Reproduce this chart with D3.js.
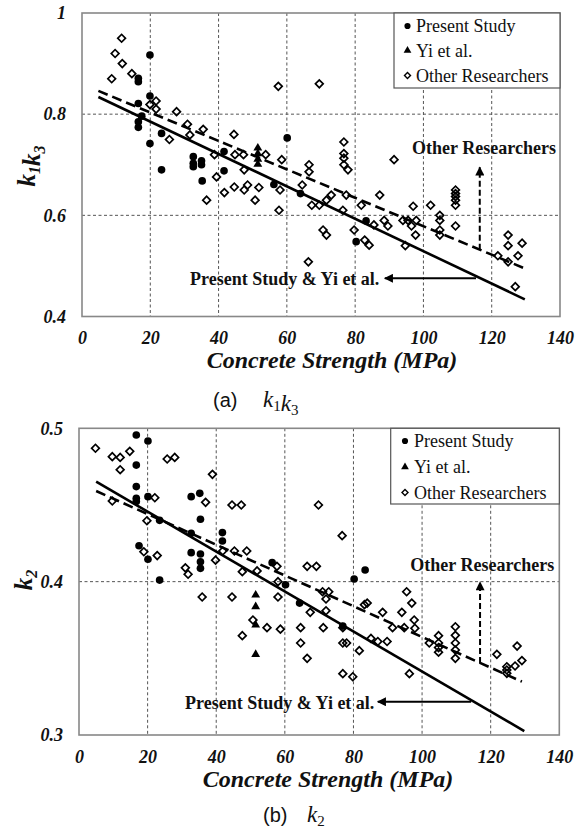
<!DOCTYPE html>
<html>
<head>
<meta charset="utf-8">
<script src="https://cdn.jsdelivr.net/npm/d3@7"></script>
<style>
  html, body { margin: 0; padding: 0; background: #fff; }
  svg { display: block; }
</style>
</head>
<body>
<svg id="fig" width="584" height="829"></svg>
<script>
// ---- axis ticks ----
const strengthTicks = [0, 20, 40, 60, 80, 100, 120, 140];
const k13Ticks = [0.4, 0.6, 0.8, 1.0];
const k2Ticks = [0.3, 0.4, 0.5];
const seriesNames = ["Present Study", "Yi et al.", "Other Researchers"];

// ---- k1k3 : [concrete strength (MPa), k1k3] ----
const k13Present = [
  [19.9, 0.917], [16.5, 0.871], [16.5, 0.864], [19.9, 0.836], [16.5, 0.821],
  [17.5, 0.796], [16.5, 0.785], [16.5, 0.774], [19.9, 0.742], [23.3, 0.762],
  [23.3, 0.690], [32.6, 0.716], [32.6, 0.703], [32.6, 0.696], [35.0, 0.708],
  [35.0, 0.700], [35.2, 0.668], [41.6, 0.726], [41.6, 0.688], [60.1, 0.753],
  [56.2, 0.661], [64.0, 0.643], [80.3, 0.548], [83.2, 0.589]
];
const k13Yi = [[51.5, 0.733], [51.5, 0.722], [51.5, 0.711], [51.5, 0.701]];
const k13Other = [
  [11.6, 0.950], [9.7, 0.920], [11.8, 0.900], [14.6, 0.880], [8.7, 0.870],
  [21.7, 0.826], [19.9, 0.819], [21.7, 0.810], [27.7, 0.805], [30.9, 0.780],
  [31.6, 0.759], [35.5, 0.770], [25.6, 0.750], [44.5, 0.760], [38.8, 0.720],
  [44.8, 0.720], [47.3, 0.720], [47.5, 0.690], [39.4, 0.676], [41.7, 0.645],
  [44.6, 0.656], [47.5, 0.650], [48.5, 0.660], [51.8, 0.655], [50.7, 0.630],
  [36.5, 0.630], [53.8, 0.720], [58.5, 0.710], [58.0, 0.650], [57.7, 0.610],
  [57.5, 0.855], [66.5, 0.700], [66.5, 0.686], [64.5, 0.660], [67.3, 0.620],
  [69.5, 0.620], [66.3, 0.508], [69.5, 0.860], [76.7, 0.745], [76.7, 0.722],
  [76.7, 0.713], [76.7, 0.700], [77.9, 0.690], [91.4, 0.710], [73.0, 0.640],
  [71.6, 0.630], [77.4, 0.640], [87.2, 0.640], [81.8, 0.620], [76.4, 0.610],
  [70.6, 0.571], [71.6, 0.561], [79.7, 0.571], [82.8, 0.551], [84.1, 0.541],
  [85.5, 0.581], [88.5, 0.590], [89.6, 0.579], [94.7, 0.540], [94.0, 0.590],
  [95.5, 0.590], [97.0, 0.618], [96.5, 0.579], [97.9, 0.590], [97.7, 0.561],
  [102.1, 0.620], [104.8, 0.600], [104.8, 0.590], [104.8, 0.571], [104.8, 0.561],
  [109.4, 0.650], [109.4, 0.643], [109.4, 0.637], [109.4, 0.630], [109.4, 0.620],
  [109.4, 0.579], [121.8, 0.520], [124.8, 0.561], [124.8, 0.540], [124.8, 0.508],
  [128.9, 0.545], [127.7, 0.520], [126.9, 0.459]
];
const k13FitPresentYi = [[4.8, 0.834], [129.7, 0.434]];
const k13FitOther = [[4.8, 0.846], [129.7, 0.495]];

// ---- k2 : [concrete strength (MPa), k2] ----
const k2Present = [
  [16.7, 0.4956], [20.1, 0.4917], [16.7, 0.4760], [16.7, 0.4620], [16.7, 0.4544],
  [16.7, 0.4522], [20.1, 0.4554], [23.5, 0.4400], [17.5, 0.4234], [20.1, 0.4146],
  [23.5, 0.4010], [32.7, 0.4554], [35.2, 0.4576], [35.4, 0.4407], [32.7, 0.4315],
  [32.7, 0.4189], [35.4, 0.4180], [35.4, 0.4130], [35.4, 0.4087], [41.8, 0.4320],
  [41.8, 0.4265], [56.3, 0.4124], [60.2, 0.3980], [64.3, 0.3860], [80.2, 0.4017],
  [83.4, 0.4076], [76.9, 0.3710]
];
const k2Yi = [[51.5, 0.3913], [51.5, 0.3837], [51.5, 0.3717], [51.5, 0.3526]];
const k2Other = [
  [4.8, 0.4870], [9.7, 0.4815], [12.0, 0.4810], [14.8, 0.4850], [12.0, 0.4730],
  [9.7, 0.4526], [25.7, 0.4800], [27.9, 0.4810], [22.1, 0.4547], [19.8, 0.4397],
  [18.9, 0.4195], [22.8, 0.4170], [38.9, 0.4700], [36.9, 0.4517], [44.6, 0.4500],
  [47.3, 0.4500], [39.8, 0.4140], [31.0, 0.4090], [31.8, 0.4048], [41.9, 0.4200],
  [45.3, 0.4200], [48.9, 0.4200], [47.6, 0.4065], [51.9, 0.4070], [35.9, 0.3900],
  [44.6, 0.3900], [58.0, 0.3900], [57.7, 0.4100], [58.0, 0.4000], [50.7, 0.3750],
  [54.8, 0.3700], [58.7, 0.3690], [47.6, 0.3648], [64.6, 0.3700], [64.6, 0.3600],
  [66.5, 0.3500], [67.4, 0.3800], [66.5, 0.4100], [69.2, 0.4100], [69.8, 0.4500],
  [76.7, 0.4300], [71.0, 0.3934], [72.8, 0.3934], [72.0, 0.3887], [72.0, 0.3810],
  [71.2, 0.3700], [76.9, 0.3700], [76.9, 0.3600], [78.0, 0.3600], [76.9, 0.3400],
  [79.8, 0.3380], [81.7, 0.3550], [83.2, 0.3850], [84.0, 0.3860], [85.1, 0.3630],
  [87.1, 0.3610], [89.8, 0.3610], [88.5, 0.3800], [91.4, 0.3700], [94.1, 0.3800],
  [94.8, 0.3700], [95.5, 0.3934], [97.0, 0.3860], [97.7, 0.3750], [97.9, 0.3696],
  [96.3, 0.3400], [102.1, 0.3600], [104.8, 0.3648], [104.8, 0.3600], [104.8, 0.3570],
  [104.8, 0.3540], [109.7, 0.3706], [109.7, 0.3650], [109.7, 0.3600], [109.7, 0.3554],
  [109.7, 0.3500], [121.8, 0.3526], [124.7, 0.3445], [124.7, 0.3424], [124.7, 0.3402],
  [127.1, 0.3450], [127.7, 0.3580], [129.1, 0.3485]
];
const k2FitPresentYi = [[5.0, 0.4652], [129.8, 0.3026]];
const k2FitOther = [[5.0, 0.4591], [129.1, 0.3348]];

// ---------------------------------------------------------------
const svg = d3.select("#fig");
const SERIF = "'Liberation Serif', 'Times New Roman', serif";
const SANS = "'Liberation Sans', Arial, sans-serif";

const defs = svg.append("defs");
defs.append("marker")
  .attr("id", "arrowHead")
  .attr("viewBox", "0 0 10 10")
  .attr("refX", 9).attr("refY", 5)
  .attr("markerUnits", "userSpaceOnUse")
  .attr("markerWidth", 10).attr("markerHeight", 9)
  .attr("orient", "auto")
  .append("path").attr("d", "M0,0 L10,5 L0,10 Z").attr("fill", "#000");

const circleSym = d3.symbol().type(d3.symbolCircle).size(46);
const triSym = d3.symbol().type(d3.symbolTriangle).size(34);
const diaSym = d3.symbol().type(d3.symbolSquare).size(30);

function drawPanel(p) {
  const g = svg.append("g");
  const x = d3.scaleLinear().domain([0, 140]).range([p.left, p.right]);
  const y = d3.scaleLinear().domain(p.yDomain).range([p.bottom, p.top]);

  // dashed grid
  const grid = g.append("g").attr("stroke", "#555").attr("stroke-width", 1)
    .attr("stroke-dasharray", "3,2.5");
  grid.selectAll("line.vx").data(strengthTicks.slice(1, -1)).join("line")
    .attr("x1", d => x(d)).attr("x2", d => x(d))
    .attr("y1", p.top).attr("y2", p.bottom);
  grid.selectAll("line.hy").data(p.yTicks.slice(1, -1)).join("line")
    .attr("x1", p.left).attr("x2", p.right)
    .attr("y1", d => y(d)).attr("y2", d => y(d));

  // frame
  g.append("rect").attr("x", p.left).attr("y", p.top)
    .attr("width", p.right - p.left).attr("height", p.bottom - p.top)
    .attr("fill", "none").attr("stroke", "#888").attr("stroke-width", 1.6);

  // axes
  const xAxis = d3.axisBottom(x).tickValues(strengthTicks).tickSize(0).tickPadding(15)
    .tickFormat(d3.format("d"));
  const ax = g.append("g").attr("transform", `translate(0,${p.bottom})`).call(xAxis);
  ax.select(".domain").remove();
  ax.selectAll("text").attr("font-family", SERIF).attr("font-size", 18)
    .attr("font-weight", "bold").attr("font-style", "italic").attr("fill", "#111");

  const yAxis = d3.axisLeft(y).tickValues(p.yTicks).tickSize(0).tickPadding(16)
    .tickFormat(d => d === 1 ? "1" : d3.format(".1f")(d));
  const ay = g.append("g").attr("transform", `translate(${p.left},0)`).call(yAxis);
  ay.select(".domain").remove();
  ay.selectAll("text").attr("font-family", SERIF).attr("font-size", 18)
    .attr("font-weight", "bold").attr("font-style", "italic").attr("fill", "#111");

  // axis titles
  g.append("text").attr("x", p.xTitleX).attr("y", p.xTitleY)
    .attr("text-anchor", "middle").attr("font-family", SERIF).attr("font-size", 24)
    .attr("font-weight", "bold").attr("font-style", "italic").attr("fill", "#111")
    .text("Concrete Strength (MPa)");

  const yt = g.append("text")
    .attr("transform", `translate(${p.yTitleX},${p.yTitleY}) rotate(-90)`)
    .attr("text-anchor", "middle").attr("font-family", SERIF)
    .attr("font-weight", "bold").attr("font-style", "italic").attr("fill", "#111")
    .attr("font-size", 25);
  p.yTitle.forEach(([base, sub]) => {
    yt.append("tspan").text(base);
    yt.append("tspan").attr("font-size", 16).attr("dy", 5).text(sub);
    yt.append("tspan").attr("font-size", 25).attr("dy", -5).text("");
  });

  // fitted lines
  const line = d3.line().x(d => x(d[0])).y(d => y(d[1]));
  g.append("path").datum(p.fitOther).attr("d", line)
    .attr("fill", "none").attr("stroke", "#000").attr("stroke-width", 2.6)
    .attr("stroke-dasharray", "10,5");
  g.append("path").datum(p.fitPresent).attr("d", line)
    .attr("fill", "none").attr("stroke", "#000").attr("stroke-width", 2.6);

  // points
  g.append("g").selectAll("path").data(p.other).join("path")
    .attr("d", diaSym)
    .attr("transform", d => `translate(${x(d[0])},${y(d[1])}) rotate(45)`)
    .attr("fill", "none").attr("stroke", "#000").attr("stroke-width", 1.7);
  g.append("g").selectAll("path").data(p.present).join("path")
    .attr("d", circleSym)
    .attr("transform", d => `translate(${x(d[0])},${y(d[1])})`)
    .attr("fill", "#000");
  g.append("g").selectAll("path").data(p.yi).join("path")
    .attr("d", triSym)
    .attr("transform", d => `translate(${x(d[0])},${y(d[1])})`)
    .attr("fill", "#000");

  // annotations
  const ann = p.ann;
  const yOtherAt = x0 => p.fitOther[0][1] + (p.fitOther[1][1] - p.fitOther[0][1]) *
    (x0 - p.fitOther[0][0]) / (p.fitOther[1][0] - p.fitOther[0][0]);
  g.append("line")
    .attr("x1", x(ann.upX)).attr("x2", x(ann.upX))
    .attr("y1", y(yOtherAt(ann.upX))).attr("y2", y(ann.upTip))
    .attr("stroke", "#000").attr("stroke-width", 2).attr("stroke-dasharray", "6,3")
    .attr("marker-end", "url(#arrowHead)");
  g.append("text").attr("x", x(ann.otherTextX)).attr("y", y(ann.otherTextY))
    .attr("text-anchor", "end").attr("font-family", SERIF).attr("font-size", 18)
    .attr("font-weight", "bold").attr("fill", "#111").text("Other Researchers");

  g.append("line")
    .attr("x1", x(ann.leftFrom)).attr("x2", x(ann.leftTip))
    .attr("y1", y(ann.leftY)).attr("y2", y(ann.leftY))
    .attr("stroke", "#000").attr("stroke-width", 2)
    .attr("marker-end", "url(#arrowHead)");
  g.append("text").attr("x", x(ann.presentTextX)).attr("y", y(ann.presentTextY))
    .attr("text-anchor", "end").attr("font-family", SERIF).attr("font-size", 18)
    .attr("font-weight", "bold").attr("fill", "#111").text("Present Study & Yi et al.");

  // legend
  const L = p.legend;
  const lg = g.append("g");
  lg.append("rect").attr("x", L.x0).attr("y", p.top).attr("width", p.right - L.x0)
    .attr("height", L.y1 - p.top).attr("fill", "#fff").attr("stroke", "#555")
    .attr("stroke-width", 1.2);
  const syms = [
    d3.symbol().type(d3.symbolCircle).size(30),
    d3.symbol().type(d3.symbolTriangle).size(26),
    d3.symbol().type(d3.symbolSquare).size(18)
  ];
  seriesNames.forEach((name, i) => {
    const cy = L.rows[i];
    lg.append("path").attr("d", syms[i])
      .attr("transform", `translate(${L.mx},${cy - 6})` + (i === 2 ? " rotate(45)" : ""))
      .attr("fill", i === 2 ? "none" : "#000").attr("stroke", i === 2 ? "#000" : "none")
      .attr("stroke-width", 1.4);
    lg.append("text").attr("x", L.tx).attr("y", cy)
      .attr("font-family", SERIF).attr("font-size", 18).attr("fill", "#111").text(name);
  });
}

drawPanel({
  left: 82, right: 560, top: 13, bottom: 316.5,
  yDomain: [0.4, 1.0], yTicks: k13Ticks,
  present: k13Present, yi: k13Yi, other: k13Other,
  fitPresent: k13FitPresentYi, fitOther: k13FitOther,
  xTitleX: 332, xTitleY: 368, yTitleX: 35, yTitleY: 166,
  yTitle: [["k", "1"], ["k", "3"]],
  ann: { upX: 116.5, upTip: 0.695, otherTextX: 138.8, otherTextY: 0.721,
         leftFrom: 115.4, leftTip: 88.7, leftY: 0.4755,
         presentTextX: 87.1, presentTextY: 0.462 },
  legend: { x0: 394, y1: 88, mx: 407.5, tx: 416, rows: [32, 56.5, 81.5] }
});

drawPanel({
  left: 79, right: 559.3, top: 428.3, bottom: 735,
  yDomain: [0.3, 0.5], yTicks: k2Ticks,
  present: k2Present, yi: k2Yi, other: k2Other,
  fitPresent: k2FitPresentYi, fitOther: k2FitOther,
  xTitleX: 328, xTitleY: 787, yTitleX: 32, yTitleY: 580,
  yTitle: [["k", "2"]],
  ann: { upX: 116.9, upTip: 0.3996, otherTextX: 138.5, otherTextY: 0.407,
         leftFrom: 114.3, leftTip: 87.1, leftY: 0.3217,
         presentTextX: 86.1, presentTextY: 0.317 },
  legend: { x0: 390.7, y1: 504, mx: 405, tx: 414, rows: [447, 473, 498.5] }
});

// panel captions: sans label followed by the italic factor name
function caption(labelX, mathX, yp, label, subs) {
  svg.append("text").attr("x", labelX).attr("y", yp).attr("fill", "#111")
    .attr("font-family", SANS).attr("font-size", 20).text(label);
  const t = svg.append("text").attr("x", mathX).attr("y", yp).attr("fill", "#111")
    .attr("font-family", SERIF);
  subs.forEach(s => {
    t.append("tspan").attr("font-style", "italic").attr("font-size", 23).text("k");
    t.append("tspan").attr("font-size", 15).attr("dy", 4).text(s);
    t.append("tspan").attr("font-size", 15).attr("dy", -4).text("");
  });
}
caption(213, 263, 407, "(a)", ["1", "3"]);
caption(263, 307, 822, "(b)", ["2"]);
</script>
</body>
</html>
